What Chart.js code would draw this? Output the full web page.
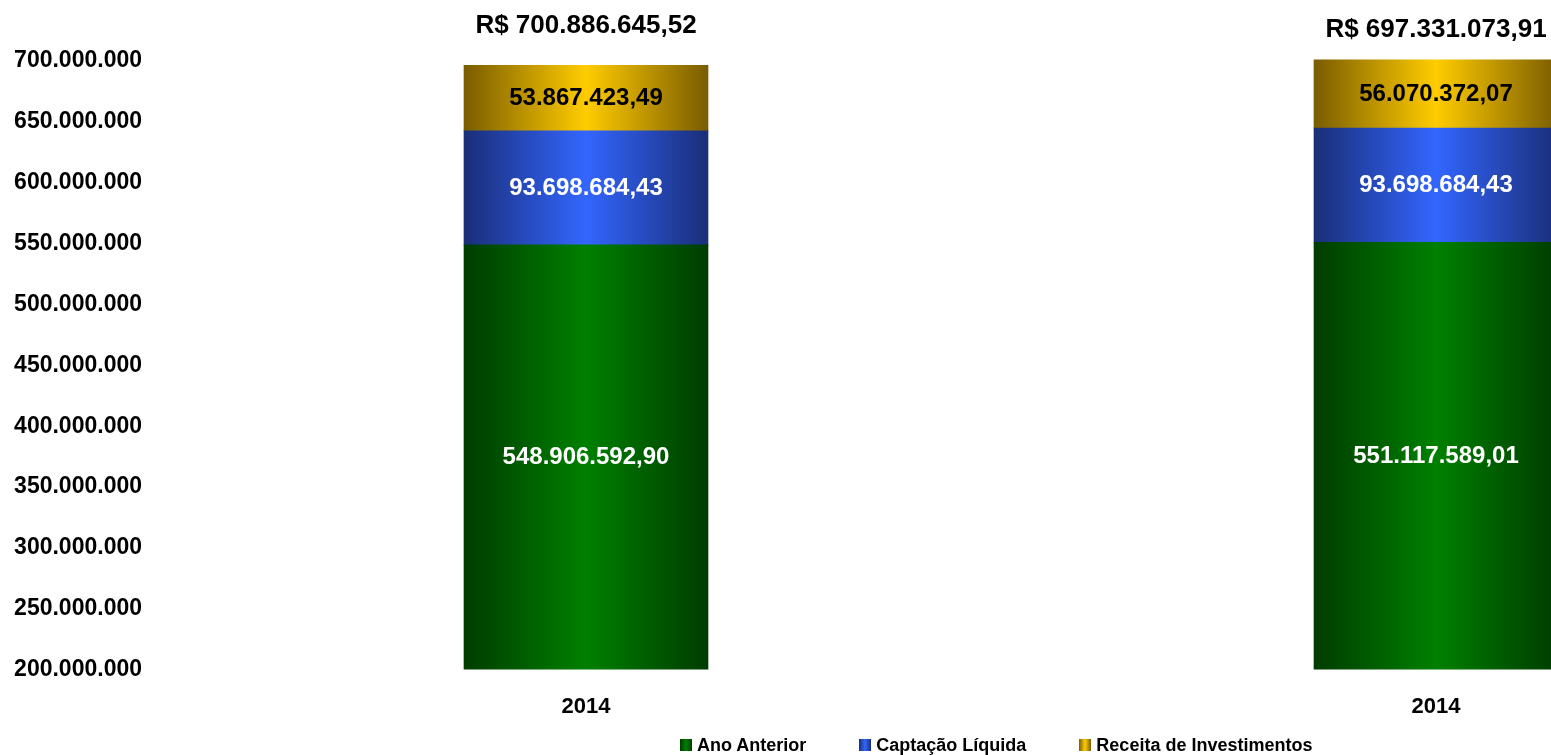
<!DOCTYPE html>
<html><head><meta charset="utf-8">
<script src="https://cdn.jsdelivr.net/npm/chart.js@4.4.1/dist/chart.umd.min.js"></script>
<style>
html,body{margin:0;padding:0;background:#fff;overflow:hidden;width:1551px;height:755px;}
#wrap{position:absolute;left:0;top:0;width:1861px;height:755px;}
#legend{position:absolute;left:680px;top:734px;display:flex;align-items:center;font:bold 18px "Liberation Sans",Arial,sans-serif;color:#000;white-space:nowrap;line-height:22px;}
.item{display:flex;align-items:center;margin-right:53px;}
.sw{width:12px;height:12px;margin-right:5px;}
</style></head><body>
<div id="wrap"><canvas id="c"></canvas></div>
<div id="legend"></div>
<script>
// ---- data ----
const categories = ['2014', '2014'];
const seriesNames = ['Ano Anterior', 'Captação Líquida', 'Receita de Investimentos'];
const anoAnterior = [548906592.90, 551117589.01];
const captacaoLiquida = [93698684.43, 93698684.43];
const receitaInvestimentos = [53867423.49, 56070372.07];
const totalLabels = [700886645.52, 697331073.91];
const yMin = 200000000, yMax = 700000000, yStep = 50000000;

// ---- style ----
const FONT = '"Liberation Sans", Arial, sans-serif';
const palette = [['#003c00', '#008000'], ['#1a2e78', '#3366ff'], ['#7a5c00', '#ffcc00']];
const textColors = ['#ffffff', '#ffffff', '#000000'];
const BAR_W = 244;

function fmtInt(v) { return String(Math.round(v)).replace(/\B(?=(\d{3})+(?!\d))/g, '.'); }
function fmtMoney(v) {
  const parts = v.toFixed(2).split('.');
  return parts[0].replace(/\B(?=(\d{3})+(?!\d))/g, '.') + ',' + parts[1];
}
function grad(pair) {
  return function (ctx) {
    const chart = ctx.chart;
    const xs = chart.scales.x;
    if (!xs || !chart.chartArea || ctx.dataIndex === undefined) return pair[1];
    const cx = xs.getPixelForValue(ctx.dataIndex);
    const g = chart.ctx.createLinearGradient(cx - BAR_W / 2, 0, cx + BAR_W / 2, 0);
    g.addColorStop(0, pair[0]);
    g.addColorStop(0.5, pair[1]);
    g.addColorStop(1, pair[0]);
    return g;
  };
}

const seriesData = [anoAnterior, captacaoLiquida, receitaInvestimentos];

const labelPlugin = {
  id: 'segLabels',
  afterDatasetsDraw(chart) {
    const ctx = chart.ctx;
    const area = chart.chartArea;
    ctx.save();
    ctx.textAlign = 'center';
    ctx.textBaseline = 'middle';
    ctx.font = 'bold 24px ' + FONT;
    chart.data.datasets.forEach((ds, i) => {
      const meta = chart.getDatasetMeta(i);
      meta.data.forEach((bar, j) => {
        const p = bar.getProps(['x', 'y', 'base'], true);
        const top = Math.max(p.y, area.top - 5);
        const bot = Math.min(p.base, area.bottom);
        ctx.fillStyle = textColors[i];
        ctx.fillText(fmtMoney(ds.data[j]), p.x, (top + bot) / 2);
      });
    });
    ctx.font = 'bold 26px ' + FONT;
    ctx.fillStyle = '#000';
    const xs = chart.scales.x, ys = chart.scales.y;
    totalLabels.forEach((t, j) => {
      ctx.fillText('R$ ' + fmtMoney(t), xs.getPixelForValue(j), ys.getPixelForValue(t) - 34);
    });
    ctx.restore();
  }
};

const datasets = seriesNames.map((name, i) => ({
  label: name,
  data: seriesData[i],
  backgroundColor: grad(palette[i]),
  borderWidth: 0,
  barThickness: BAR_W,
  clip: { left: false, right: false, top: 5, bottom: 0 }
}));

new Chart(document.getElementById('c'), {
  type: 'bar',
  data: { labels: categories, datasets },
  plugins: [labelPlugin],
  options: {
    responsive: true,
    maintainAspectRatio: false,
    animation: false,
    layout: { padding: { left: 14, top: 61, right: 0, bottom: 11 } },
    plugins: { legend: { display: false }, tooltip: { enabled: false } },
    scales: {
      x: {
        stacked: true,
        grid: { display: false, drawTicks: false },
        border: { display: false },
        ticks: { padding: 24, color: '#000', font: { family: FONT, size: 22, weight: 'bold' } }
      },
      y: {
        stacked: true,
        min: yMin, max: yMax,
        grid: { display: false, drawTicks: false },
        border: { display: false },
        ticks: {
          stepSize: yStep, padding: 19, color: '#000',
          font: { family: FONT, size: 23, weight: 'bold' },
          callback: v => fmtInt(v)
        },
        afterFit(s) { s.width = 147; }
      }
    }
  }
});

// HTML legend built from series names and palette
const leg = document.getElementById('legend');
seriesNames.forEach((name, i) => {
  const it = document.createElement('div');
  it.className = 'item';
  const sw = document.createElement('div');
  sw.className = 'sw';
  sw.style.background = 'linear-gradient(to right,' + palette[i][0] + ',' + palette[i][1] + ',' + palette[i][0] + ')';
  const tx = document.createElement('span');
  tx.textContent = name;
  it.appendChild(sw); it.appendChild(tx);
  leg.appendChild(it);
});
</script>
</body></html>
